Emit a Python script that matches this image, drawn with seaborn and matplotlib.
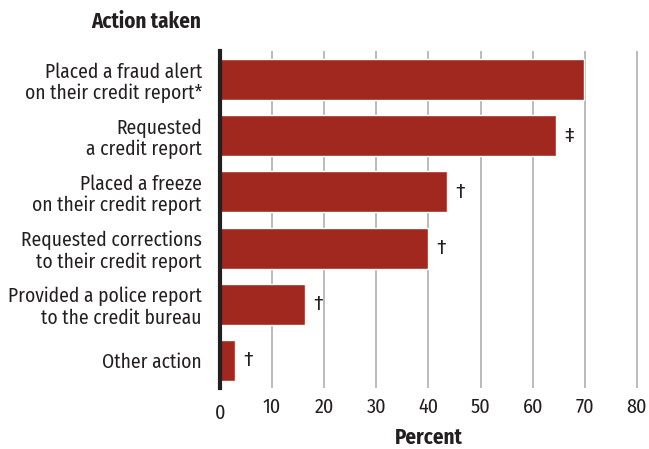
import matplotlib
matplotlib.use("Agg")
import matplotlib.pyplot as plt
import matplotlib.transforms as mtransforms
import seaborn as sns
import pandas as pd

# Identity-theft victims: actions taken with credit bureaus
actions = [
    "Placed a fraud alert\non their credit report*",
    "Requested\na credit report",
    "Placed a freeze\non their credit report",
    "Requested corrections\nto their credit report",
    "Provided a police report\nto the credit bureau",
    "Other action",
]
percent = [69.8, 64.4, 43.5, 39.9, 16.3, 2.9]
notes = ["", "‡", "†", "†", "†", "†"]
x_ticks = [0, 10, 20, 30, 40, 50, 60, 70, 80]

df = pd.DataFrame({"action": actions, "percent": percent, "note": notes})

sns.set_theme(style="white")
plt.rcParams["font.family"] = ["Fira Sans Condensed", "Archivo Narrow", "DejaVu Sans"]

text_color = "#231f20"
bar_color = "#a0281e"

fig = plt.figure(figsize=(6.49, 4.49), dpi=100)
ax = fig.add_axes([220 / 649, 1 - 388 / 449, (637.5 - 220) / 649, (388 - 51) / 449])

sns.barplot(data=df, x="percent", y="action", color=bar_color, width=0.73,
            saturation=1, ax=ax, zorder=3)

ax.set_xlim(0, 80.1)
ax.set_ylim(5.49, -0.51)
ax.set_xticks(x_ticks)
ax.set_xticklabels([str(t) for t in x_ticks], fontsize=14.5, color=text_color)
ax.tick_params(axis="x", length=0, pad=7)
ax.tick_params(axis="y", length=0, pad=13, labelsize=14, labelcolor=text_color)
for lab in ax.get_yticklabels():
    lab.set_linespacing(1.12)
    lab.set_horizontalalignment("right")

# first tick label sits a touch lower than the rest
zero = ax.get_xticklabels()[0]
zero.set_transform(zero.get_transform() +
                   mtransforms.ScaledTranslation(0, -6 / 100, fig.dpi_scale_trans))

ax.grid(axis="x", color="#b5b5b5", linewidth=1.3, zorder=0)
ax.grid(axis="y", visible=False)
for side in ["top", "right", "bottom"]:
    ax.spines[side].set_visible(False)
ax.spines["left"].set_color(text_color)
ax.spines["left"].set_linewidth(3)
ax.spines["left"].set_zorder(4)

ax.set_ylabel("")
ax.set_xlabel("Percent", fontsize=15, fontweight="bold", color=text_color, labelpad=3)

for i, (v, n) in enumerate(zip(percent, notes)):
    if n:
        ax.annotate(n, xy=(v, i), xytext=(6, 0), textcoords="offset points",
                    ha="left", va="center", fontsize=15, color=text_color)

fig.text(201 / 649, 1 - 22 / 449, "Action taken", ha="right", va="center",
         fontsize=15, fontweight="bold", color=text_color)

fig.savefig("out.png", dpi=100, facecolor="white")
